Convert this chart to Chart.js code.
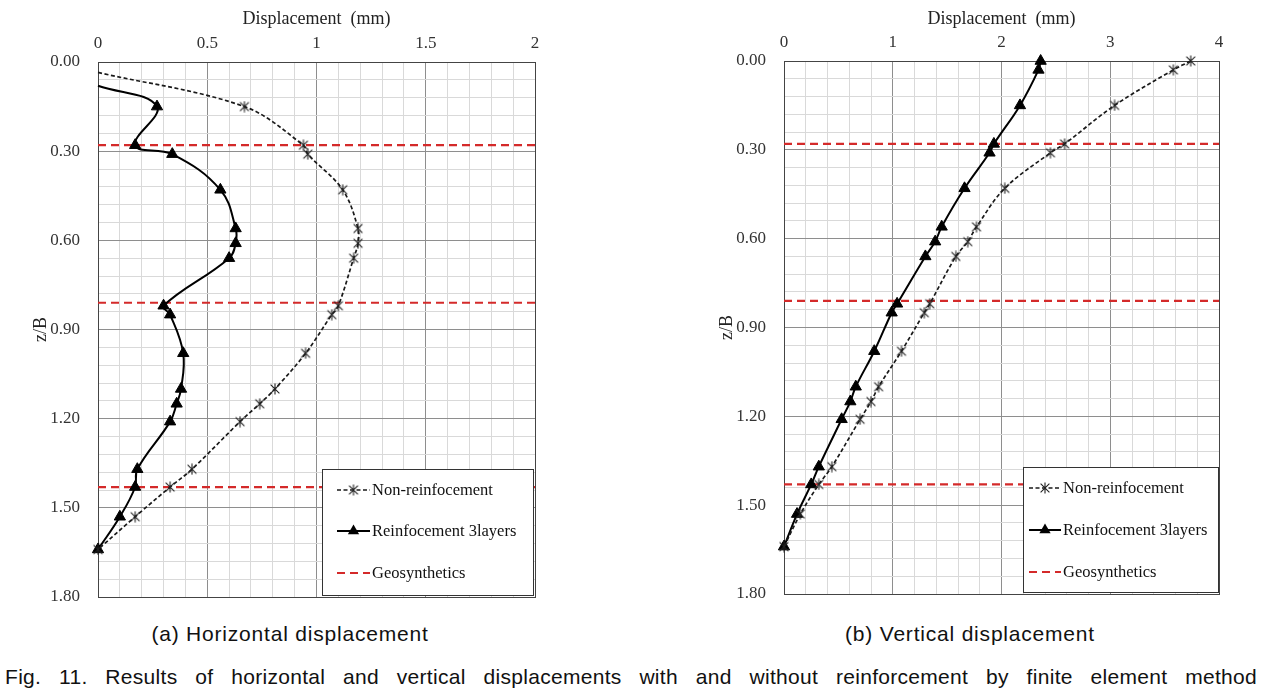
<!DOCTYPE html>
<html lang="en">
<head>
  <meta charset="UTF-8" />
  <title>Fig. 11 – Horizontal and vertical displacements</title>
  <script src="https://cdn.jsdelivr.net/npm/chart.js"></script>
  <style>
    body { margin: 0; background: #fff; }
    .page { position: relative; width: 1262px; height: 700px; overflow: hidden; background: #fff; }
    .page canvas { position: absolute; top: 0; }
    #hChart { left: 0; }
    #vChart { left: 700px; }
    .sub {
      position: absolute; top: 620px; width: 400px; text-align: center;
      font: 21px "Liberation Sans", Arial, sans-serif; letter-spacing: 0.8px;
      line-height: 28px; color: #111;
    }
    .fig {
      position: absolute; left: 5px; top: 663px; width: 1252px;
      font: 21px "Liberation Sans", Arial, sans-serif; letter-spacing: 0.3px; line-height: 28px; color: #111;
      text-align: justify; text-align-last: justify; white-space: nowrap;
    }
  </style>
</head>
<body>
<div class="page">
  <canvas id="hChart" width="560" height="610"></canvas>
  <canvas id="vChart" width="560" height="610"></canvas>
  <div class="sub" style="left:90px">(a) Horizontal displacement</div>
  <div class="sub" style="left:770px">(b) Vertical displacement</div>
  <div class="fig">Fig. 11. Results of horizontal and vertical displacements with and without reinforcement by finite element method</div>
</div>

<script>
  // (a) horizontal displacement (mm) at each z/B
  const zH = [0.15, 0.28, 0.31, 0.43, 0.56, 0.61, 0.66, 0.82, 0.85, 0.98, 1.10, 1.15, 1.21, 1.37, 1.43, 1.53, 1.64];
  const hNon = [0.67, 0.94, 0.96, 1.12, 1.19, 1.19, 1.17, 1.10, 1.07, 0.95, 0.81, 0.74, 0.65, 0.43, 0.33, 0.17, 0];
  const hRein = [0.27, 0.17, 0.34, 0.56, 0.63, 0.63, 0.60, 0.30, 0.33, 0.39, 0.38, 0.36, 0.33, 0.18, 0.17, 0.10, 0];
  // z/B where the curves come in from the left border (no marker there)
  const hNonStartZ = 0.035;
  const hReinStartZ = 0.08;

  // (b) vertical displacement (mm) at each z/B
  const zV = [0, 0.03, 0.15, 0.28, 0.31, 0.43, 0.56, 0.61, 0.66, 0.82, 0.85, 0.98, 1.10, 1.15, 1.21, 1.37, 1.43, 1.53, 1.64];
  const vNon = [3.74, 3.58, 3.04, 2.58, 2.45, 2.03, 1.77, 1.69, 1.58, 1.34, 1.29, 1.08, 0.87, 0.80, 0.70, 0.44, 0.32, 0.15, 0];
  const vRein = [2.36, 2.34, 2.17, 1.93, 1.89, 1.66, 1.45, 1.39, 1.30, 1.04, 0.99, 0.83, 0.66, 0.61, 0.53, 0.32, 0.25, 0.12, 0];

  // geosynthetic layers (z/B)
  const geoZ = [0.28, 0.81, 1.43];

  const labels = ['Non-reinfocement', 'Reinfocement 3layers', 'Geosynthetics'];

  Chart.defaults.font.family = '"Liberation Serif", "Times New Roman", serif';
  Chart.defaults.color = '#222';

  // asterisk marker like the Excel one: an X with a vertical stroke
  function makeStar(size) {
    const c = document.createElement('canvas');
    c.width = size; c.height = size;
    const g = c.getContext('2d');
    const m = size / 2, r = size / 2 - 0.5;
    g.strokeStyle = '#222';
    g.lineWidth = 1.1;
    g.beginPath();
    g.moveTo(m - r * 0.8, m - r * 0.8); g.lineTo(m + r * 0.8, m + r * 0.8);
    g.moveTo(m + r * 0.8, m - r * 0.8); g.lineTo(m - r * 0.8, m + r * 0.8);
    g.moveTo(m, m - r); g.lineTo(m, m + r);
    g.stroke();
    return c;
  }
  const star = makeStar(12);

  const toPts = (xs, zs) => xs.map((x, i) => ({ x: x, y: zs[i] }));
  const geoPts = xMax => geoZ.flatMap(z => [{ x: 0, y: z }, { x: xMax, y: z }, { x: null, y: null }]);
  const isMajor = (v, step) => Math.abs(v / step - Math.round(v / step)) < 1e-6;

  function makeDatasets(nonPts, reinPts, xMax, hideFirst) {
    const radius = r => hideFirst ? (c => c.dataIndex === 0 ? 0 : r) : r;
    return [
      {
        label: labels[0], data: nonPts,
        borderColor: '#1a1a1a', borderWidth: 1.7, borderDash: [4, 2.5],
        pointStyle: star, pointRadius: radius(6),
        tension: 0.35, clip: false
      },
      {
        label: labels[1], data: reinPts,
        borderColor: '#000', borderWidth: 2,
        pointStyle: 'triangle', pointRadius: radius(6.5),
        pointBackgroundColor: '#000', pointBorderColor: '#000', pointBorderWidth: 1,
        tension: 0.4, clip: false
      },
      {
        label: labels[2], data: geoPts(xMax),
        borderColor: '#d42a2a', borderWidth: 2.2, borderDash: [8, 5],
        pointRadius: 0, spanGaps: false, tension: 0
      }
    ];
  }

  // dark frame round the plot area
  const frame = {
    id: 'frame',
    beforeDatasetsDraw(chart) {
      const { ctx, chartArea: a } = chart;
      ctx.save();
      ctx.strokeStyle = '#444';
      ctx.lineWidth = 1;
      ctx.strokeRect(a.left + 0.5, a.top + 0.5, a.right - a.left, a.bottom - a.top);
      ctx.restore();
    }
  };

  // legend in a box inside the lower right corner
  const boxLegend = {
    id: 'boxLegend',
    afterDatasetsDraw(chart, args, o) {
      const { ctx, chartArea: a } = chart;
      const x0 = Math.round(a.right - o.right - o.width);
      const y0 = Math.round(a.bottom - o.bottom - o.height);
      ctx.save();
      ctx.fillStyle = '#fff';
      ctx.fillRect(x0, y0, o.width, o.height);
      ctx.strokeStyle = '#333';
      ctx.lineWidth = 1;
      ctx.strokeRect(x0 + 0.5, y0 + 0.5, o.width, o.height);
      ctx.font = '16.5px "Liberation Serif", "Times New Roman", serif';
      ctx.textBaseline = 'middle';
      chart.data.datasets.forEach((ds, i) => {
        const y = y0 + o.rows[i];
        const xa = x0 + o.lineFrom, xb = x0 + o.lineTo, xm = (xa + xb) / 2;
        ctx.strokeStyle = ds.borderColor;
        ctx.lineWidth = ds.borderWidth;
        ctx.setLineDash(ds.borderDash || []);
        ctx.beginPath(); ctx.moveTo(xa, y); ctx.lineTo(xb, y); ctx.stroke();
        ctx.setLineDash([]);
        if (ds.pointStyle === 'triangle') {
          const r = 6.5;
          ctx.fillStyle = '#000';
          ctx.beginPath();
          ctx.moveTo(xm, y - r);
          ctx.lineTo(xm + r * 0.866, y + r * 0.5);
          ctx.lineTo(xm - r * 0.866, y + r * 0.5);
          ctx.closePath(); ctx.fill();
        } else if (ds.pointStyle === star) {
          ctx.drawImage(star, xm - star.width / 2, y - star.height / 2);
        }
        ctx.fillStyle = '#111';
        ctx.fillText(ds.label, x0 + o.textX, y + 1);
      });
      ctx.restore();
    }
  };

  function makeChart(id, datasets, xMax, xStep, xMajor, yWidth, xHeight, pad, titlePad, legendOpts) {
    return new Chart(document.getElementById(id), {
      type: 'line',
      data: { datasets: datasets },
      plugins: [frame, boxLegend],
      options: {
        responsive: false,
        animation: false,
        layout: { padding: pad },
        plugins: {
          legend: { display: false },
          tooltip: { enabled: false },
          boxLegend: legendOpts
        },
        scales: {
          x: {
            type: 'linear', position: 'top', min: 0, max: xMax,
            ticks: {
              stepSize: xStep, autoSkip: false, maxRotation: 0, padding: 8,
              font: { size: 17 }, color: '#333',
              callback: v => isMajor(v, xMajor) ? String(Math.round(v * 10) / 10) : ''
            },
            grid: { drawTicks: false, color: c => isMajor(c.tick.value, xMajor) ? '#8e8e8e' : '#d9d9d9' },
            border: { display: false },
            title: { display: true, text: 'Displacement  (mm)', font: { size: 18 }, color: '#222', padding: { top: 8, bottom: 0 } },
            afterFit: s => { s.height = xHeight; s.paddingLeft = 0; s.paddingRight = 0; }
          },
          y: {
            type: 'linear', reverse: true, min: 0, max: 1.8,
            ticks: {
              stepSize: 0.06, autoSkip: false, padding: 18,
              font: { size: 17 }, color: '#333',
              callback: v => isMajor(v, 0.3) ? v.toFixed(2) : ''
            },
            grid: { drawTicks: false, color: c => isMajor(c.tick.value, 0.3) ? '#8e8e8e' : '#d9d9d9' },
            border: { display: false },
            title: { display: true, text: 'z/B', font: { size: 18 }, color: '#222', padding: { top: titlePad, bottom: 0 } },
            afterFit: s => { s.width = yWidth; s.paddingTop = 0; s.paddingBottom = 0; }
          }
        }
      }
    });
  }

  // (a) Horizontal displacement
  makeChart('hChart',
    makeDatasets(
      [{ x: 0, y: hNonStartZ }].concat(toPts(hNon, zH)),
      [{ x: 0, y: hReinStartZ }].concat(toPts(hRein, zH)),
      2, true),
    2, 0.1, 0.5, 98, 62, { left: 0, top: 0, right: 25, bottom: 13 }, 30,
    { width: 211, height: 126, right: 2, bottom: 2, rows: [21, 62, 104], lineFrom: 15, lineTo: 48, textX: 50 });

  // (b) Vertical displacement
  makeChart('vChart',
    makeDatasets(toPts(vNon, zV), toPts(vRein, zV), 4, false),
    4, 0.2, 1, 84, 61, { left: 0, top: 0, right: 41, bottom: 16 }, 16,
    { width: 195, height: 125, right: 1, bottom: 2, rows: [21, 63, 105], lineFrom: 6, lineTo: 38, textX: 40 });
</script>
</body>
</html>
